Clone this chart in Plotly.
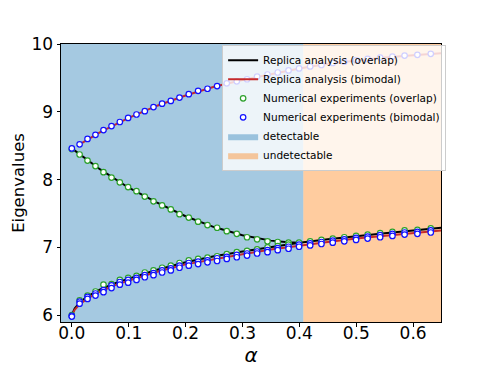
import plotly.graph_objects as go

# ---------------- data ----------------
alpha = [0.0, 0.0137, 0.0276, 0.0416, 0.0557, 0.0698, 0.0844, 0.0990, 0.1137, 0.1283,
         0.1436, 0.1587, 0.1740, 0.1893, 0.2056, 0.2220, 0.2385, 0.2554, 0.2724, 0.2900,
         0.3080, 0.3257, 0.3440, 0.3620, 0.3810, 0.3995, 0.4190, 0.4388, 0.4587, 0.4790,
         0.4997, 0.5200, 0.5420, 0.5636, 0.5850, 0.6075, 0.6310]

# numerical experiments (overlap) - middle branch (alpha[0:25]) and lower branch
num_overlap_mid = [8.45, 8.37, 8.28, 8.20, 8.11, 8.03, 7.96, 7.89, 7.83, 7.75,
                   7.68, 7.62, 7.56, 7.49, 7.44, 7.38, 7.33, 7.29, 7.24, 7.20,
                   7.15, 7.12, 7.09, 7.08, 7.07]
num_overlap_low = [6.00, 6.22, 6.29, 6.35, 6.45, 6.46, 6.52, 6.55, 6.58, 6.63,
                   6.66, 6.70, 6.73, 6.77, 6.81, 6.83, 6.85, 6.87, 6.90, 6.93,
                   6.95, 6.97, 7.00, 7.02, 7.04, 7.07, 7.09, 7.11, 7.13, 7.15,
                   7.17, 7.19, 7.21, 7.23, 7.25, 7.26, 7.28]

# numerical experiments (bimodal) - upper branch and two lower eigenvalues
num_bimodal_up = [8.46, 8.52, 8.60, 8.66, 8.73, 8.79, 8.85, 8.91, 8.96, 9.01,
                  9.07, 9.12, 9.16, 9.21, 9.26, 9.31, 9.34, 9.38, 9.42, 9.45,
                  9.48, 9.52, 9.55, 9.58, 9.61, 9.64, 9.67, 9.69, 9.72, 9.74,
                  9.76, 9.78, 9.80, 9.815, 9.83, 9.84, 9.855]
num_bimodal_low1 = [5.99, 6.20, 6.27, 6.32, 6.37, 6.44, 6.49, 6.52, 6.55, 6.59,
                    6.62, 6.66, 6.69, 6.73, 6.77, 6.79, 6.81, 6.84, 6.86, 6.89,
                    6.91, 6.94, 6.96, 6.99, 7.01, 7.04, 7.06, 7.08, 7.10, 7.12,
                    7.14, 7.16, 7.18, 7.20, 7.22, 7.23, 7.25]
num_bimodal_low2 = [5.98, 6.17, 6.24, 6.29, 6.34, 6.40, 6.45, 6.48, 6.52, 6.56,
                    6.59, 6.63, 6.66, 6.70, 6.73, 6.755, 6.78, 6.80, 6.83, 6.855,
                    6.88, 6.91, 6.93, 6.96, 6.98, 7.01, 7.03, 7.05, 7.07, 7.09,
                    7.11, 7.13, 7.15, 7.17, 7.19, 7.20, 7.22]

# replica analysis (theory curves)
alpha_low = [0.0, 0.005, 0.015, 0.03, 0.05, 0.075, 0.1, 0.15, 0.2, 0.25, 0.3, 0.35,
             0.4, 0.45, 0.5, 0.55, 0.6, 0.649]
replica_overlap_low = [6.00, 6.10, 6.20, 6.29, 6.38, 6.47, 6.54, 6.67, 6.78, 6.87,
                       6.94, 7.01, 7.07, 7.12, 7.17, 7.21, 7.25, 7.29]
replica_bimodal_low = [5.99, 6.08, 6.17, 6.26, 6.35, 6.44, 6.51, 6.64, 6.75, 6.83,
                       6.90, 6.97, 7.03, 7.08, 7.13, 7.17, 7.21, 7.25]
alpha_mid = [0.0, 0.05, 0.1, 0.15, 0.2, 0.25, 0.3, 0.35, 0.38, 0.40]
replica_overlap_mid = [8.46, 8.15, 7.88, 7.66, 7.46, 7.30, 7.18, 7.10, 7.075, 7.07]
alpha_up = [0.0137, 0.05, 0.1, 0.15, 0.2, 0.25, 0.3, 0.35, 0.4, 0.45, 0.5, 0.55, 0.6, 0.649]
replica_bimodal_up = [8.52, 8.70, 8.91, 9.09, 9.24, 9.37, 9.47, 9.56, 9.64, 9.71,
                      9.76, 9.80, 9.835, 9.865]

alpha_c = 0.407
x_lim = [-0.019, 0.649]
y_lim = [5.9, 10.0]
x_ticks = [0.0, 0.1, 0.2, 0.3, 0.4, 0.5, 0.6]
x_ticklabels = ["0.0", "0.1", "0.2", "0.3", "0.4", "0.5", "0.6"]
y_ticks = [6, 7, 8, 9, 10]

# ---------------- figure ----------------
BLUE_BG = "rgba(31,119,180,0.4)"
ORANGE_BG = "rgba(255,127,14,0.4)"
RED = "#c62a2a"
GREEN = "#2ca02c"
MBLUE = "#1010ff"

fig = go.Figure()

fig.add_trace(go.Scatter(
    x=[x_lim[0], alpha_c, alpha_c, x_lim[0], x_lim[0]],
    y=[y_lim[0], y_lim[0], y_lim[1], y_lim[1], y_lim[0]],
    fill="toself", fillcolor=BLUE_BG, mode="lines", line=dict(width=0),
    name="detectable", legendrank=5, hoverinfo="skip"))
fig.add_trace(go.Scatter(
    x=[alpha_c, x_lim[1], x_lim[1], alpha_c, alpha_c],
    y=[y_lim[0], y_lim[0], y_lim[1], y_lim[1], y_lim[0]],
    fill="toself", fillcolor=ORANGE_BG, mode="lines", line=dict(width=0),
    name="undetectable", legendrank=6, hoverinfo="skip"))

# theory lines
fig.add_trace(go.Scatter(x=alpha_mid, y=replica_overlap_mid, mode="lines",
                         line=dict(color="black", width=2),
                         name="Replica analysis (overlap)", legendgroup="ro",
                         legendrank=1))
fig.add_trace(go.Scatter(x=alpha_low, y=replica_overlap_low, mode="lines",
                         line=dict(color="black", width=2),
                         name="Replica analysis (overlap)", legendgroup="ro",
                         showlegend=False))
fig.add_trace(go.Scatter(x=alpha_up, y=replica_bimodal_up, mode="lines",
                         line=dict(color=RED, width=2),
                         name="Replica analysis (bimodal)", legendgroup="rb",
                         legendrank=2))
fig.add_trace(go.Scatter(x=alpha_low, y=replica_bimodal_low, mode="lines",
                         line=dict(color=RED, width=2),
                         name="Replica analysis (bimodal)", legendgroup="rb",
                         showlegend=False))

mk_green = dict(symbol="circle", size=5.5, color="white", line=dict(color=GREEN, width=1.2))
mk_blue = dict(symbol="circle", size=5.5, color="white", line=dict(color=MBLUE, width=1.2))

fig.add_trace(go.Scatter(x=alpha[:len(num_overlap_mid)], y=num_overlap_mid, mode="markers",
                         marker=mk_green, name="Numerical experiments (overlap)",
                         legendgroup="no", legendrank=3))
fig.add_trace(go.Scatter(x=alpha, y=num_overlap_low, mode="markers",
                         marker=mk_green, name="Numerical experiments (overlap)",
                         legendgroup="no", showlegend=False))
fig.add_trace(go.Scatter(x=alpha, y=num_bimodal_up, mode="markers",
                         marker=mk_blue, name="Numerical experiments (bimodal)",
                         legendgroup="nb", legendrank=4))
fig.add_trace(go.Scatter(x=alpha, y=num_bimodal_low1, mode="markers",
                         marker=mk_blue, name="Numerical experiments (bimodal)",
                         legendgroup="nb", showlegend=False))
fig.add_trace(go.Scatter(x=alpha, y=num_bimodal_low2, mode="markers",
                         marker=mk_blue, name="Numerical experiments (bimodal)",
                         legendgroup="nb", showlegend=False))

axis_common = dict(showgrid=False, zeroline=False, showline=True, linecolor="black",
                   linewidth=1, mirror=True, ticks="outside", ticklen=3.5, tickwidth=1,
                   tickcolor="black", tickfont=dict(size=17, color="black"),
                   automargin=False)

# the page body has an 8px margin, so the figure is placed 8px lower/right
fig.update_layout(
    width=491, height=368,
    margin=dict(l=53, r=58, t=36, b=54),
    paper_bgcolor="white", plot_bgcolor="white",
    font=dict(family="DejaVu Sans", color="black"),
    xaxis=dict(range=x_lim, tickvals=x_ticks, ticktext=x_ticklabels,
               ticklabelstandoff=-8,
               title=dict(text="<i>α</i>", font=dict(size=20), standoff=0),
               **axis_common),
    yaxis=dict(range=y_lim, tickvals=y_ticks,
               title=dict(text="Eigenvalues", font=dict(size=16.5), standoff=2),
               **axis_common),
    legend=dict(x=0.424, y=0.997, xanchor="left", yanchor="top",
                bgcolor="rgba(255,255,255,0.8)", bordercolor="#cccccc", borderwidth=1,
                font=dict(size=10.5, color="black"), tracegroupgap=0,
                itemwidth=30),
    showlegend=True,
)

fig.write_html("out.html")
